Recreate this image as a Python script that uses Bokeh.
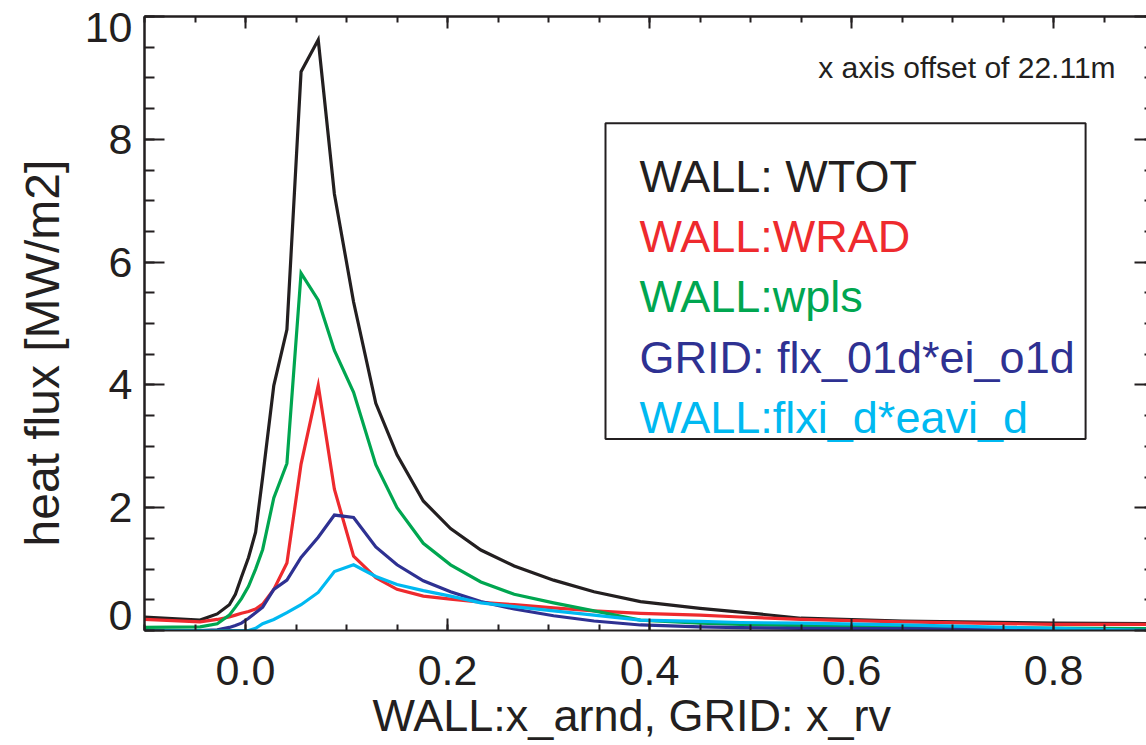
from bokeh.plotting import figure
from bokeh.models import (Range1d, LinearAxis, FixedTicker, BoxAnnotation, Label,
                          ColumnDataSource, Title)
from bokeh.core.properties import value
from bokeh.embed import file_html
from bokeh.resources import INLINE

# ---------------- data ----------------
x_pos = [-0.1, -0.045, -0.028, -0.016, -0.010, -0.004, 0.003, 0.010, 0.017, 0.028,
         0.041, 0.055, 0.072, 0.088, 0.107, 0.129, 0.150, 0.176, 0.203, 0.233,
         0.266, 0.305, 0.345, 0.391, 0.45, 0.49, 0.55, 0.65, 0.80, 0.90]

wall_wtot = [0.22, 0.17, 0.27, 0.42, 0.59, 0.87, 1.19, 1.60, 2.50, 3.99,
             4.90, 9.10, 9.62, 7.11, 5.35, 3.70, 2.86, 2.11, 1.66, 1.31,
             1.05, 0.82, 0.63, 0.47, 0.36, 0.30, 0.20, 0.155, 0.12, 0.11]

wall_wrad = [0.18, 0.14, 0.18, 0.22, 0.25, 0.28, 0.31, 0.35, 0.43, 0.67,
             1.10, 2.71, 3.99, 2.30, 1.21, 0.86, 0.67, 0.56, 0.51, 0.46,
             0.42, 0.37, 0.32, 0.28, 0.25, 0.22, 0.18, 0.14, 0.10, 0.10]

wall_wpls = [0.05, 0.06, 0.11, 0.25, 0.38, 0.52, 0.72, 1.00, 1.32, 2.16,
             2.72, 5.82, 5.38, 4.56, 3.88, 2.70, 2.00, 1.42, 1.07, 0.79,
             0.59, 0.45, 0.32, 0.17, 0.12, 0.10, 0.08, 0.06, 0.04, 0.03]

grid_flx = [0.0, 0.0, 0.01, 0.05, 0.08, 0.12, 0.20, 0.29, 0.38, 0.67,
            0.82, 1.19, 1.52, 1.88, 1.84, 1.36, 1.07, 0.81, 0.63, 0.47,
            0.35, 0.24, 0.155, 0.09, 0.06, 0.046, 0.035, 0.03, 0.01, 0.0]

wall_flxi = [0.0, 0.0, 0.0, 0.0, 0.0, 0.0, 0.0, 0.035, 0.11, 0.18,
             0.29, 0.42, 0.62, 0.96, 1.07, 0.88, 0.75, 0.65, 0.56, 0.45,
             0.39, 0.32, 0.25, 0.17, 0.15, 0.13, 0.12, 0.09, 0.035, 0.0]

series_names = ["WALL: WTOT", "WALL:WRAD", "WALL:wpls",
                "GRID: flx_01d*ei_o1d", "WALL:flxi_d*eavi_d"]
series_colors = ["#231f20", "#ee2a2e", "#00a650", "#2e3192", "#00b9f1"]

x_ticks = [0.0, 0.2, 0.4, 0.6, 0.8]
x_tick_labels = ["0.0", "0.2", "0.4", "0.6", "0.8"]
y_ticks = [0, 2, 4, 6, 8, 10]
y_tick_labels = ["0", "2", "4", "6", "8", "10"]

x_title = "WALL:x_arnd, GRID: x_rv"
y_title = "heat flux [MW/m2]"
offset_note = "x axis offset of 22.11m"

# ---------------- figure ----------------
FONT = "Liberation Sans"
BLACK = "#231f20"

p = figure(width=1146, height=745,
           x_range=Range1d(-0.1, 0.892), y_range=Range1d(0, 10),
           output_backend="svg", toolbar_location=None,
           x_axis_location=None, y_axis_location=None,
           min_border_left=144, min_border_right=0,
           min_border_top=16, min_border_bottom=115)
p.outline_line_color = None
p.xgrid.visible = False
p.ygrid.visible = False
p.background_fill_color = "white"
p.border_fill_color = "white"

x_minor = [round(-0.1 + 0.05 * i, 3) for i in range(21)]
y_minor = [0.5 * i for i in range(21)]


def tick_axis(ticks, length, line=True):
    """Axis that only draws inward tick marks (as minor ticks, so no labels)."""
    ax = LinearAxis(ticker=FixedTicker(ticks=[], minor_ticks=ticks))
    ax.major_tick_in = 0
    ax.major_tick_out = 0
    ax.minor_tick_in = length
    ax.minor_tick_out = 0
    ax.minor_tick_line_width = 2
    ax.minor_tick_line_color = BLACK
    ax.major_label_standoff = 0
    ax.axis_line_width = 2
    ax.axis_line_color = BLACK if line else None
    return ax


# bottom axis: labels + ticks
xb = LinearAxis(ticker=FixedTicker(ticks=x_ticks, minor_ticks=x_minor))
xb.major_label_overrides = {t: s for t, s in zip(x_ticks, x_tick_labels)}
xb.major_tick_in = 12
xb.major_tick_out = 0
xb.minor_tick_in = 6
xb.minor_tick_out = 0
xb.major_tick_line_width = 2
xb.minor_tick_line_width = 2
xb.major_tick_line_color = BLACK
xb.minor_tick_line_color = BLACK
xb.axis_line_width = 2
xb.axis_line_color = BLACK
xb.major_label_text_font = FONT
xb.major_label_text_font_size = "43px"
xb.major_label_text_color = BLACK
xb.major_label_standoff = 25
p.add_layout(xb, "below")

# x title
p.add_layout(Title(text=x_title, align="left", offset=228, standoff=0,
                   vertical_align="bottom",
                   text_font=FONT, text_font_size="45px",
                   text_font_style="normal", text_color=BLACK), "below")

# top axis: ticks only
p.add_layout(tick_axis(x_ticks, 12), "above")
p.add_layout(tick_axis(x_minor, 6), "above")

# left axis: ticks
p.add_layout(tick_axis(y_ticks, 20), "left")
p.add_layout(tick_axis(y_minor, 10), "left")

# left axis: labels (end labels nudged inward as in the original)
label_pos = [0.24, 2, 4, 6, 8, 9.82]
yl2 = LinearAxis(ticker=FixedTicker(ticks=label_pos, minor_ticks=[]))
yl2.major_label_overrides = {pos: lab for pos, lab in zip(label_pos, y_tick_labels)}
yl2.axis_line_color = None
yl2.major_tick_line_color = None
yl2.minor_tick_line_color = None
yl2.major_tick_in = 0
yl2.major_tick_out = 0
yl2.major_label_text_font = FONT
yl2.major_label_text_font_size = "43px"
yl2.major_label_text_color = BLACK
yl2.major_label_standoff = 12
p.add_layout(yl2, "left")

# y title
p.add_layout(Title(text=y_title, align="left", offset=84, standoff=24,
                   vertical_align="middle",
                   text_font=FONT, text_font_size="48px",
                   text_font_style="normal", text_color=BLACK), "left")

# right axis: ticks only (axis line itself lies just outside the picture)
p.add_layout(tick_axis(y_ticks, 12, line=False), "right")
p.add_layout(tick_axis(y_minor, 2, line=False), "right")

# ---------------- lines ----------------
for ys, c in zip([wall_wtot, wall_wrad, wall_wpls, grid_flx, wall_flxi], series_colors):
    p.line(x_pos, ys, line_color=c, line_width=3.2, line_join="miter")

# ---------------- legend box ----------------
p.add_layout(BoxAnnotation(left=0.3564, right=0.8317, bottom=3.12, top=8.26,
                           fill_alpha=0, line_color=BLACK, line_alpha=1,
                           line_width=2))
leg_src = ColumnDataSource(dict(
    x=[0.390] * 5,
    y=[7.397, 6.419, 5.441, 4.442, 3.464],
    text=series_names,
    color=series_colors))
p.text(x="x", y="y", text="text", text_color="color", source=leg_src,
       text_font=value(FONT), text_font_size="45px",
       text_align="left", text_baseline="alphabetic")

p.add_layout(Label(x=0.8614, y=9.174, text=offset_note, text_font=FONT,
                   text_font_size="30px", text_color=BLACK,
                   text_align="right", text_baseline="alphabetic"))

open("out.html", "w").write(file_html(p, INLINE))
